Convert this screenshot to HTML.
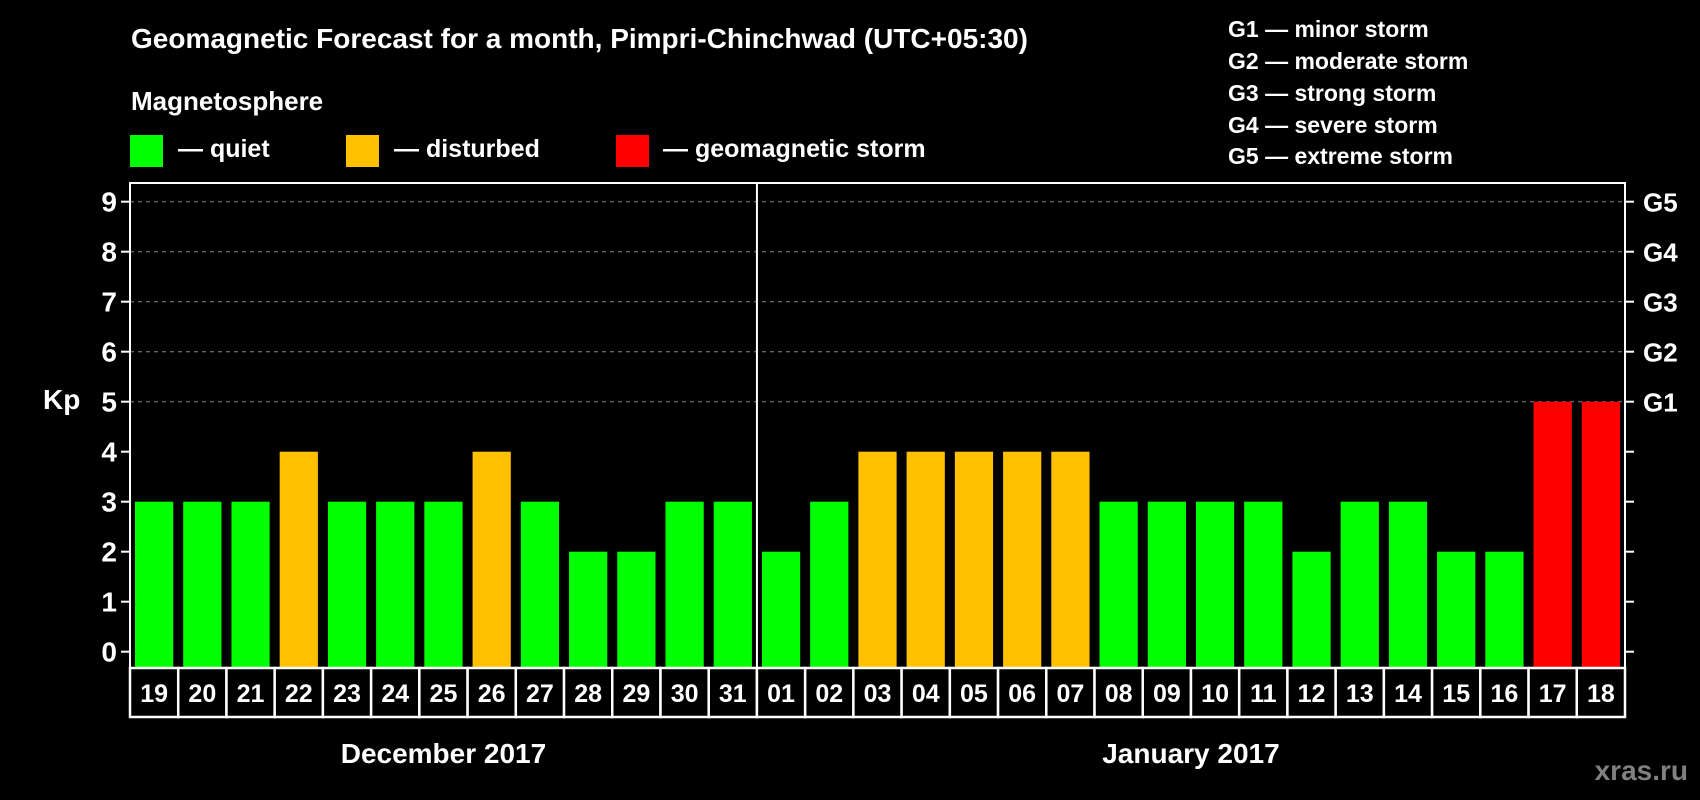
<!DOCTYPE html>
<html><head><meta charset="utf-8"><style>
html,body{margin:0;padding:0;background:#000;}
svg{display:block;font-family:"Liberation Sans",Arial,sans-serif;font-weight:bold;}
</style></head><body>
<svg id="chart" width="1700" height="800" viewBox="0 0 1700 800">
<rect x="0" y="0" width="1700" height="800" fill="#000"/>
<text x="131" y="48" font-size="28" fill="#fff">Geomagnetic Forecast for a month, Pimpri-Chinchwad (UTC+05:30)</text>
<text x="131" y="110" font-size="26" fill="#fff">Magnetosphere</text>
<g><rect x="130" y="135" width="33" height="32" fill="#00ff00"/><text x="178" y="157" font-size="25" fill="#fff">— quiet</text></g>
<g><rect x="346" y="135" width="33" height="32" fill="#ffc000"/><text x="394" y="157" font-size="25" fill="#fff">— disturbed</text></g>
<g><rect x="616" y="135" width="33" height="32" fill="#ff0000"/><text x="663" y="157" font-size="25" fill="#fff">— geomagnetic storm</text></g>
<g font-size="23" fill="#fff">
<text x="1228" y="37">G1 — minor storm</text>
<text x="1228" y="69">G2 — moderate storm</text>
<text x="1228" y="101">G3 — strong storm</text>
<text x="1228" y="133">G4 — severe storm</text>
<text x="1228" y="164">G5 — extreme storm</text>
</g>
<text x="43" y="409" font-size="28" fill="#fff">Kp</text>
<text x="1598" y="780" font-size="28" fill="#808080" text-anchor="end" transform="translate(90,0)">xras.ru</text>
<g id="plot"></g>
</svg>
<script>
const days = ["19","20","21","22","23","24","25","26","27","28","29","30","31","01","02","03","04","05","06","07","08","09","10","11","12","13","14","15","16","17","18"];
const kp = [3,3,3,4,3,3,3,4,3,2,2,3,3, 2,3,4,4,4,4,4,3,3,3,3,2,3,3,2,2,5,5];
const yTicks = [0,1,2,3,4,5,6,7,8,9];
const stormLabels = ["G1","G2","G3","G4","G5"];
const stormLevels = [5,6,7,8,9];
const months = ["December 2017","January 2017"];
const monthStarts = [0,13];

const L=130,R=1625,T=183,B=668;
const colW=(R-L)/days.length;
const y=v=>651.7-v*50;
const x=i=>L+i*colW;
const NS="http://www.w3.org/2000/svg";
const g=document.getElementById('plot');
function mk(tag,attrs,parent){const e=document.createElementNS(NS,tag);for(const k in attrs)e.setAttribute(k,attrs[k]);(parent||g).appendChild(e);return e;}

stormLevels.forEach(v=>{
  const l=mk('line',{x1:L,x2:R,y1:y(v),y2:y(v),stroke:'#888','stroke-dasharray':'4,4','stroke-width':1});
  
  
});
kp.forEach((v,i)=>{
  const c=v>=5?'#ff0000':(v>=4?'#ffc000':'#00ff00');
  const r=mk('rect',{x:x(i)+5,y:y(v),width:colW-10,height:B-y(v),fill:c});
  
  
});
yTicks.forEach(v=>{
  const t1=mk('line',{x1:L-9,x2:L,y1:y(v),y2:y(v),stroke:'#fff','stroke-width':2});
  
  
  const t2=mk('line',{x1:R,x2:R+9,y1:y(v),y2:y(v),stroke:'#fff','stroke-width':2});
  
  
  const tx=mk('text',{x:117,y:y(v)+10,'font-size':28,fill:'#fff','text-anchor':'end'});
  tx.textContent=v;
  
  
});
stormLabels.forEach((s,i)=>{
  const tx=mk('text',{x:1643,y:y(stormLevels[i])+10,'font-size':26,fill:'#fff'});
  tx.textContent=s;
  
  
});
const fr=mk('rect',{x:L,y:T,width:R-L,height:B-T,fill:'none',stroke:'#fff','stroke-width':2});


const dv=mk('line',{x1:x(13),x2:x(13),y1:T,y2:B,stroke:'#fff','stroke-width':2});


days.forEach((d,i)=>{
  const b=mk('rect',{x:x(i),y:B,width:colW,height:49,fill:'#000',stroke:'#fff','stroke-width':2.5});
  
  
  const t=mk('text',{x:x(i)+colW/2,y:B+34,'font-size':25,fill:'#fff','text-anchor':'middle'});
  t.textContent=d;
  
  
});
months.forEach((m,i)=>{
  const s=monthStarts[i], e=i+1<monthStarts.length?monthStarts[i+1]:days.length;
  const t=mk('text',{x:(x(s)+x(e))/2,y:763,'font-size':28,fill:'#fff','text-anchor':'middle'});
  t.textContent=m;
  
  
});
</script>
</body></html>
